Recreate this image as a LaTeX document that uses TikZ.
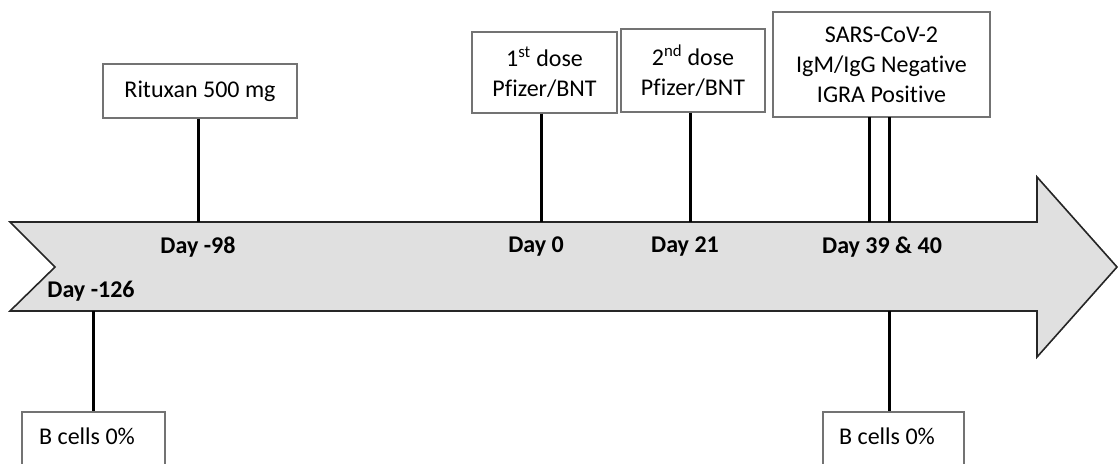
\documentclass[tikz,border=0pt]{standalone}
\usepackage{fontspec}
\setmainfont[Ligatures=NoCommon]{Carlito}
\begin{document}
\begin{tikzpicture}[x=1pt,y=-1pt,
  box/.style={draw=black!55,line width=1.3pt,fill=white,align=center,inner sep=0pt,
    font=\fontsize{24}{30}\selectfont},
  tick/.style={draw=black,line width=3pt},
  lab/.style={font=\fontsize{24}{28}\selectfont\bfseries,inner sep=0pt}]
\useasboundingbox (0,0) rectangle (1118,463);
% timeline arrow
\draw[fill=black!12,draw=black!85,line width=1.6pt,line join=miter]
  (10,222) -- (1037,222) -- (1037,177) -- (1117,267) -- (1037,357) -- (1037,311)
  -- (10,311) -- (55,267) -- cycle;
% boxes
\node[box,minimum width=194pt,minimum height=54pt] (rit) at (200,91) {Rituxan 500 mg};
\node[box,minimum width=145pt,minimum height=81pt] (d1) at (544.5,72.5) {1\textsuperscript{st} dose\\Pfizer/BNT};
\node[box,minimum width=144pt,minimum height=83pt] (d2) at (693,70.5) {2\textsuperscript{nd} dose\\Pfizer/BNT};
\node[box,minimum width=217pt,minimum height=105pt] (sars) at (881.5,64.5) {SARS-CoV-2\\IgM/IgG Negative\\IGRA Positive};
\node[box,minimum width=143pt,minimum height=60pt] (b1) at (93.5,442) {\raisebox{12pt}{B cells 0\%}\hspace*{13pt}};
\node[box,minimum width=141pt,minimum height=60pt] (b2) at (893.5,442) {\raisebox{12pt}{B cells 0\%}\hspace*{13pt}};
% anchors on the arrow
\coordinate (ritA) at (198,222);
\coordinate (d1A) at (541,222);
\coordinate (d2A) at (690,222);
\coordinate (s1T) at (869,117);
\coordinate (s1A) at (869,222);
\coordinate (s2T) at (889,117);
\coordinate (s2A) at (889,222);
\coordinate (b1A) at (93,311);
\coordinate (b2A) at (889,311);
% connectors
\draw[tick] (rit.south -| ritA) -- (ritA);
\draw[tick] (d1.south -| d1A) -- (d1A);
\draw[tick] (d2.south -| d2A) -- (d2A);
\draw[tick] (s1T) -- (s1A);
\draw[tick] (s2T) -- (s2A);
\draw[tick] (b1A) -- (b1.north -| b1A);
\draw[tick] (b2A) -- (b2.north -| b2A);
% day labels
\node[lab] (l98) at (198,247) {Day -98};
\node[lab] (l126) at (91,291) {Day -126};
\node[lab] (l0) at (536,247) {Day 0};
\node[lab] (l21) at (685,247) {Day 21};
\node[lab] (l39) at (882,247) {Day 39 \& 40};
\end{tikzpicture}
\end{document}
